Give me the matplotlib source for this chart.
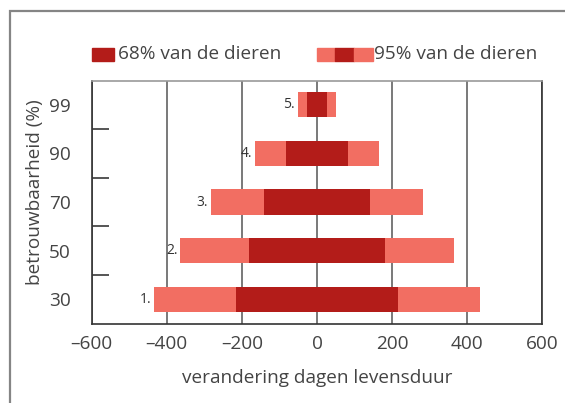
import matplotlib
matplotlib.use("Agg")
import matplotlib.pyplot as plt
from matplotlib.patches import Rectangle

plt.rcParams['font.family'] = ['Open Sans', 'DejaVu Sans']

# Data
categories = ["30", "50", "70", "90", "99"]
bar_labels = ["1.", "2.", "3.", "4.", "5."]
sd68 = [216, 182, 142, 82, 27]      # half-width of 68% interval
sd95 = [434, 364, 283, 164, 51]     # half-width of 95% interval
xticks = [-600, -400, -200, 0, 200, 400, 600]
legend_labels = ["68% van de dieren", "95% van de dieren"]
xlabel = "verandering dagen levensduur"
ylabel = "betrouwbaarheid (%)"

dark = "#b31c19"
light = "#f26e62"
txt = "#444444"
FS = 13.7

W, H = 565, 403
fig = plt.figure(figsize=(W / 100, H / 100), dpi=100)


def fx(px):
    return px / W


def fy(py):
    return 1 - py / H


# outer frame
fig.patches.append(Rectangle((fx(10), -0.1), 1.2, fy(11) + 0.1, transform=fig.transFigure,
                             fill=False, edgecolor="#858585", linewidth=1.6))

ax = fig.add_axes([fx(91.7), fy(323.7), (542.3 - 91.7) / W, (323.7 - 80.5) / H])
y = list(range(len(categories)))
for i in y:
    ax.barh(i, 2 * sd95[i], left=-sd95[i], height=0.52, color=light, zorder=3)
    ax.barh(i, 2 * sd68[i], left=-sd68[i], height=0.52, color=dark, zorder=4)
    ax.annotate(bar_labels[i], (-sd95[i], i), xytext=(-2, 0), textcoords="offset points",
                ha="right", va="center", fontsize=10, color="#333333")

ax.set_xlim(-600, 600)
ax.set_ylim(-0.5, len(categories) - 0.5)
ax.set_xticks(xticks)
ax.set_xticklabels([f"{v}".replace("-", "\u2013") for v in xticks])
ax.set_yticks(y)
ax.set_yticklabels(categories)
ax.set_yticks([i + 0.5 for i in y[:-1]], minor=True)
ax.tick_params(axis="both", which="major", length=0, labelsize=FS, labelcolor=txt)
ax.tick_params(axis="x", pad=8)
ax.tick_params(axis="y", pad=15)
ax.tick_params(axis="y", which="minor", direction="in", length=12, width=1.4, color="#555555")
ax.grid(axis="x", color="#555555", linewidth=1.1, zorder=1)
ax.set_axisbelow(True)
for s in ax.spines.values():
    s.set_color("#333333")
    s.set_linewidth(1.2)
ax.spines["top"].set_color("#999999")

fig.text(fx(317), fy(378), xlabel, fontsize=FS, color=txt, ha="center", va="center")
fig.text(fx(35), fy(192), ylabel, fontsize=FS, color=txt, ha="center", va="center", rotation=90)

# legend (manual)
ph = (60.7 - 48) / H
fig.patches.append(Rectangle((fx(92), fy(60.7)), fx(22), ph, transform=fig.transFigure, color=dark))
fig.text(fx(118), fy(54), legend_labels[0], fontsize=FS, color=txt, va="center", ha="left")
segs = [(317, 334.7, light), (334.7, 354, dark), (354, 372.7, light)]
for a, b, c in segs:
    fig.patches.append(Rectangle((fx(a), fy(60.7)), fx(b - a), ph, transform=fig.transFigure, color=c))
fig.text(fx(373.5), fy(54), legend_labels[1], fontsize=FS, color=txt, va="center", ha="left")

fig.savefig("out.png", dpi=100)
